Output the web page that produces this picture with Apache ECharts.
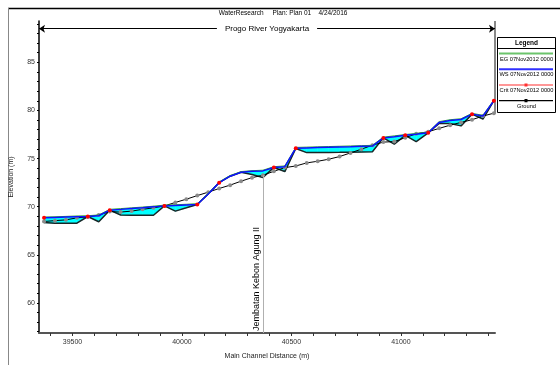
<!DOCTYPE html>
<html><head><meta charset="utf-8">
<script src="https://cdn.jsdelivr.net/npm/echarts@6/dist/echarts.min.js"></script>
<style>html,body{margin:0;padding:0;background:#fff}#c{width:560px;height:365px}</style>
</head><body><div id="c"></div>
<script>
// Main channel distance of each cross section (m)
const stations = [39370,39420,39470,39520,39570,39620,39670,39720,39770,39820,39870,39920,39970,40020,40070,40120,40170,40220,40270,40320,40370,40420,40470,40520,40570,40620,40670,40720,40770,40820,40870,40920,40970,41020,41070,41125,41175,41225,41275,41325,41375,41425];
// Ground profile (grey markers)
const groundElev = [68.46,68.55,68.63,68.84,68.94,69.14,69.49,69.44,69.54,69.72,69.88,70.08,70.44,70.78,71.15,71.51,71.89,72.24,72.65,73.02,73.27,73.68,74.06,74.23,74.55,74.72,74.93,75.21,75.59,75.98,76.39,76.71,76.77,77.17,77.58,77.79,78.14,78.47,78.76,79.04,79.42,79.72];
// Water surface
const wsElev = [68.84,68.88,68.92,68.96,68.98,69.06,69.64,69.72,69.81,69.89,69.98,70.08,70.13,70.18,70.23,71.31,72.50,73.17,73.58,73.67,73.72,74.08,74.16,76.08,76.11,76.14,76.17,76.20,76.23,76.27,76.30,77.15,77.28,77.42,77.53,77.68,78.76,78.96,79.06,79.62,79.42,81.02];
// Lower edge of the water fill
const bedElev = [68.35,68.27,68.27,68.28,68.98,68.43,69.64,69.13,69.11,69.11,69.11,70.08,69.54,69.88,70.23,71.31,72.50,73.17,73.58,73.35,73.04,74.08,73.65,76.05,75.62,75.62,75.64,75.65,75.67,75.69,75.71,77.15,76.51,77.42,76.77,77.68,78.65,78.65,78.40,79.62,79.11,81.02];
// Energy grade
const egElev = [68.92,68.95,68.99,69.03,69.06,69.14,69.72,69.80,69.88,69.96,70.05,70.16,70.20,70.25,70.31,71.40,72.58,73.24,73.65,73.74,73.79,74.16,74.23,76.16,76.19,76.22,76.25,76.28,76.31,76.34,76.38,77.23,77.36,77.50,77.61,77.76,78.84,79.04,79.14,79.70,79.50,81.10];
// Critical depth (only where shown)
const critElev = [68.84,null,null,null,68.98,null,69.64,null,null,null,null,70.08,null,null,70.23,null,72.50,null,null,null,null,74.08,null,76.08,null,null,null,null,null,null,null,77.15,null,77.42,null,77.68,null,null,null,79.62,null,81.02];

const xTickValues = [39400,39500,39600,39700,39800,39900,40000,40100,40200,40300,40400,40500,40600,40700,40800,40900,41000,41100,41200,41300,41400];
const xLabelValues = [39500,40000,40500,41000];
const yTickValues = [57,58,59,60,61,62,63,64,65,66,67,68,69,70,71,72,73,74,75,76,77,78,79,80,81,82,83,84,85,86,87,88,89];
const yLabelValues = [60,65,70,75,80,85];

const seriesNames = ['EG 07Nov2012 0000','WS 07Nov2012 0000','Crit 07Nov2012 0000','Ground'];
const bridgeStation = 40370;
const bridgeTop = 73.27;
const bridgeName = 'Jembatan Kebon Agung II';
const reachName = 'Progo River Yogyakarta';
const titleText = 'WaterResearch     Plan: Plan 01    4/24/2016';

const X_MIN = 39347, X_MAX = 41430, Y_MIN = 56.87, Y_MAX = 89.3;
const REACH_Y = 88.5;
const FONT = 'Liberation Sans, Arial, sans-serif';

const chart = echarts.init(document.getElementById('c'), null, {renderer: 'canvas'});
const pair = (a) => stations.map((d, i) => [d, a[i]]);
const lineIcon = 'path://M0,3H54V5H0Z';
const critIcon = 'path://M0,3.5H54V4.5H0Z M25.5,2.5H28.5V5.5H25.5Z';
const groundIcon = 'path://M0,3.3H54V4.7H0Z M25.5,2.3H28.5V5.7H25.5Z';

chart.setOption({
  animation: false,
  backgroundColor: '#fff',
  textStyle: {fontFamily: FONT},
  title: {
    text: titleText, left: 283, textAlign: 'center', top: 10, padding: 0,
    textStyle: {fontSize: 6.5, fontWeight: 'normal', color: '#000', fontFamily: FONT}
  },
  grid: {left: 39, right: 65, top: 21, bottom: 26, containLabel: false},
  xAxis: {
    type: 'value', min: X_MIN, max: X_MAX,
    name: 'Main Channel Distance (m)', nameLocation: 'middle', nameGap: 20,
    nameTextStyle: {fontSize: 7, color: '#222', fontFamily: FONT},
    axisLine: {show: true, onZero: false, lineStyle: {color: '#555', width: 2}},
    axisTick: {show: true, customValues: xTickValues, length: 3, lineStyle: {color: '#333'}},
    axisLabel: {customValues: xLabelValues, fontSize: 7, color: '#333', margin: 6, fontFamily: FONT,
      formatter: (v) => String(v)},
    splitLine: {show: false}
  },
  yAxis: {
    type: 'value', min: Y_MIN, max: Y_MAX,
    name: 'Elevation (m)', nameLocation: 'middle', nameGap: 24,
    nameTextStyle: {fontSize: 7, color: '#222', fontFamily: FONT},
    axisLine: {show: true, onZero: false, lineStyle: {color: '#000', width: 1.5}},
    axisTick: {show: true, customValues: yTickValues, length: 2, lineStyle: {color: '#000'}},
    axisLabel: {customValues: yLabelValues, fontSize: 7, color: '#333', margin: 4, fontFamily: FONT,
      formatter: (v) => String(v)},
    splitLine: {show: false}
  },
  legend: [{
    data: [
      {name: seriesNames[0], icon: lineIcon, itemStyle: {color: '#6cc46c'}},
      {name: seriesNames[1], icon: lineIcon, itemStyle: {color: '#3030ff'}},
      {name: seriesNames[2], icon: critIcon, itemStyle: {color: '#ff3030'}},
      {name: seriesNames[3], icon: groundIcon, itemStyle: {color: '#000'}}
    ],
    orient: 'vertical', left: 499, top: 49.5, padding: 0,
    itemWidth: 54, itemHeight: 8, itemGap: 7.7,
    formatter: () => ' ',
    textStyle: {fontSize: 6, lineHeight: 8}
  }, {
    data: seriesNames.map(n => ({name: n, icon: 'none'})),
    orient: 'vertical', left: 493.5, top: 55, padding: 0,
    itemWidth: 0, itemHeight: 8, itemGap: 8.7,
    formatter: (n) => '{t|' + n + '}',
    textStyle: {fontSize: 5.7, color: '#000', fontFamily: FONT,
      rich: {t: {width: 56, align: 'center', fontSize: 5.7, fontFamily: FONT, color: '#000'}}}
  }],
  graphic: [
    {type: 'line', shape: {x1: 8, y1: 8.5, x2: 560, y2: 8.5}, style: {stroke: '#000', lineWidth: 1.5}, silent: true},
    {type: 'line', shape: {x1: 8.5, y1: 8, x2: 8.5, y2: 365}, style: {stroke: '#888', lineWidth: 1}, silent: true},
    {type: 'rect', shape: {x: 497.5, y: 37.5, width: 58, height: 75}, style: {fill: 'none', stroke: '#000', lineWidth: 1}, silent: true, z: -1},
    {type: 'line', shape: {x1: 497.5, y1: 48.5, x2: 555.5, y2: 48.5}, style: {stroke: '#000', lineWidth: 1}, silent: true},
    {type: 'text', x: 526.5, y: 43, style: {text: 'Legend', fontSize: 6.5, fontWeight: 'bold', fontFamily: FONT, fill: '#000', align: 'center', verticalAlign: 'middle'}, silent: true}
  ],
  series: [
    {
      name: 'fill', type: 'custom', z: 1, silent: true,
      data: pair(wsElev),
      renderItem: function (params, api) {
        const i = params.dataIndex;
        if (i >= stations.length - 1) return null;
        const p1 = api.coord([stations[i], wsElev[i]]);
        const p2 = api.coord([stations[i + 1], wsElev[i + 1]]);
        const p3 = api.coord([stations[i + 1], bedElev[i + 1]]);
        const p4 = api.coord([stations[i], bedElev[i]]);
        return {type: 'polygon', shape: {points: [p1, p2, p3, p4]},
          style: {fill: '#00ffff', stroke: '#00ffff', lineWidth: 0.6}};
      }
    },
    {
      name: 'bed', type: 'line', z: 2, silent: true, data: pair(bedElev),
      symbol: 'none', lineStyle: {color: '#1a2626', width: 1.5}
    },
    {
      name: seriesNames[3], type: 'line', z: 3, data: pair(groundElev),
      symbol: 'circle', symbolSize: 4, showAllSymbol: true,
      itemStyle: {color: '#8a8a8a'}, lineStyle: {color: '#000', width: 1},
      markLine: {
        silent: true, animation: false, symbol: ['none', 'none'], symbolSize: 6,
        data: [
          [{coord: [bridgeStation, Y_MIN], lineStyle: {color: '#b0b0b0', width: 1, type: 'solid'},
            label: {show: true, position: 'insideStartTop', formatter: bridgeName, fontSize: 9, color: '#000', fontFamily: FONT, distance: 2}},
           {coord: [bridgeStation, bridgeTop]}],
          [{coord: [X_MAX, Y_MAX], lineStyle: {color: '#888', width: 2, type: 'solid'}, label: {show: false}},
           {coord: [X_MAX, groundElev[groundElev.length - 1]]}],
          [{coord: [X_MIN, REACH_Y], symbol: 'arrow', lineStyle: {color: '#000', width: 1, type: 'solid'},
            label: {show: true, position: 'insideMiddle', formatter: reachName, fontSize: 8, color: '#000', fontFamily: FONT,
              backgroundColor: '#fff', padding: [1, 8]}},
           {coord: [X_MAX, REACH_Y], symbol: 'arrow'}]
        ]
      }
    },
    {
      name: seriesNames[0], type: 'line', z: 4, data: pair(egElev),
      symbol: 'none', itemStyle: {color: '#30a030'}, lineStyle: {color: '#30a030', width: 1}
    },
    {
      name: seriesNames[1], type: 'line', z: 5, data: pair(wsElev),
      symbol: 'none', itemStyle: {color: '#1010ff'}, lineStyle: {color: '#1010ff', width: 1.5}
    },
    {
      name: seriesNames[2], type: 'line', z: 6, data: pair(critElev), connectNulls: false,
      symbol: 'circle', symbolSize: 4, showAllSymbol: true,
      itemStyle: {color: '#ff0000'}, lineStyle: {color: '#ff9090', width: 1}
    }
  ]
});
</script>
</body></html>
